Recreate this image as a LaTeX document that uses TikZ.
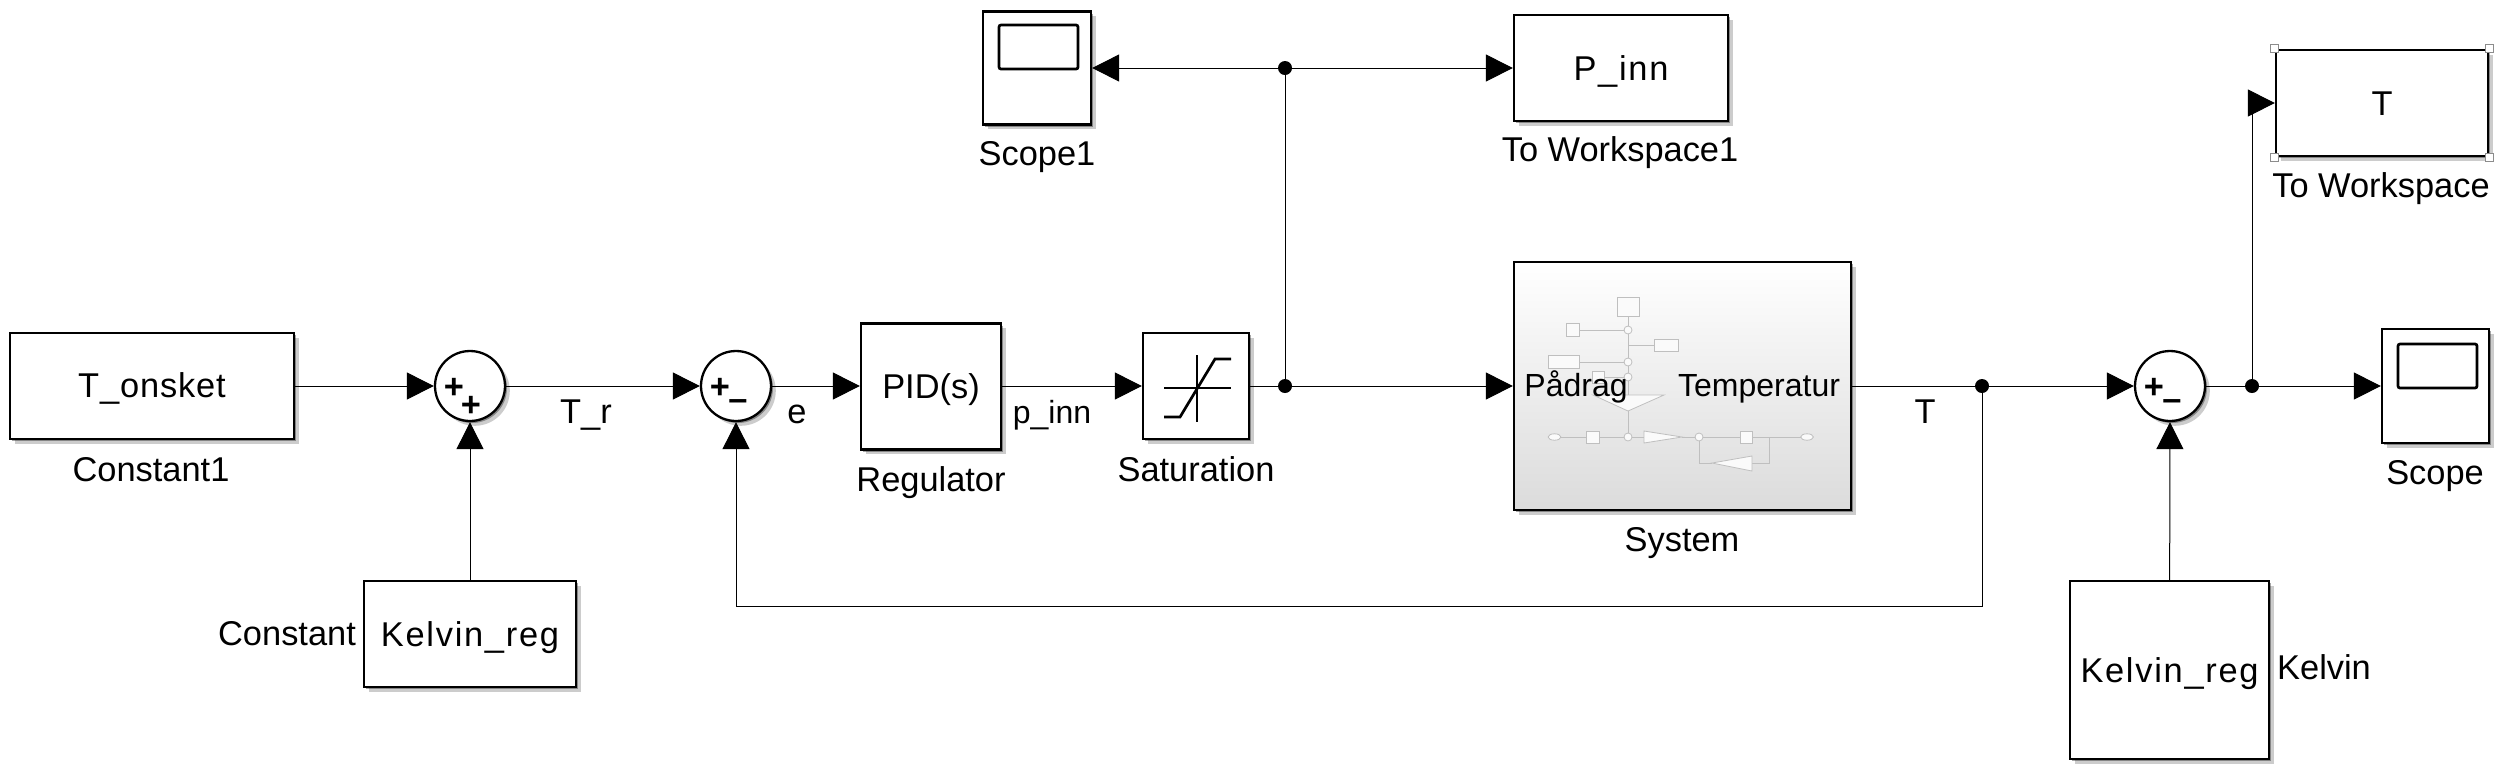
\documentclass[tikz,border=0pt]{standalone}
\usepackage{fontspec}
\setmainfont{Liberation Sans}
\usetikzlibrary{arrows.meta,shadows}

\begin{document}
\begin{tikzpicture}[x=0.5pt,y=-0.5pt,
    softshadow/.style={drop shadow={shadow xshift=1pt,shadow yshift=-1pt,fill=black,opacity=.35},
        drop shadow={shadow xshift=2.4pt,shadow yshift=-2.4pt,fill=black,opacity=.2}},
    blockbox/.style={softshadow,draw,line width=1.15pt,fill=white,inner sep=0pt,text height=12.3pt,text depth=0pt},
    sumbox/.style={blockbox,circle,minimum size=35pt},
    junction/.style={circle,fill=black,inner sep=0pt,minimum size=7pt},
    caption/.style={anchor=base,inner sep=0pt},
    portname/.style={caption,font=\fontsize{16}{20}\selectfont},
    wide/.style={font=\addfontfeature{LetterSpace=5}},
    sign/.style={inner sep=0pt,font=\bfseries},
    sig/.style={line width=0.5pt,-{Triangle[length=13.5pt,width=13.5pt]}},
    wire/.style={line width=0.5pt},
    icon/.style={line width=1.35pt},
    handle/.style={draw=black!45,fill=white,line width=0.6pt,inner sep=0pt,minimum size=4pt},
    thumb/.style={draw=black!25,line width=0.4pt},
    thumbbox/.style={draw=black!25,fill=black!2,line width=0.4pt}]
    \useasboundingbox (0,0) rectangle (2495,773);
    \fontsize{17.2}{20}\selectfont

    % Setpoint
    \node[blockbox,text height=11.3pt,minimum width=142pt,minimum height=53pt,font=\addfontfeature{LetterSpace=2.5}] (tonsket) at (152,386) {T\_onsket};
    \node[caption] (lconst1) at (151,481) {Constant1};
    \node[blockbox,wide,minimum width=106pt,minimum height=53pt] (kreg) at (470,634) {Kelvin\_reg};
    \node[caption] (lconst) at (287,645) {Constant};

    % Summing points
    \node[sumbox] (sum1) at (470,386) {};
    \node[sign] (s1a) at (454,388) {+};
    \node[sign] (s1b) at (471,406) {+};
    \node[sumbox] (sum2) at (736,386) {};
    \node[sign] (s2a) at (720,388) {+};
    \node[sign] (s2b) at (738,405) {--};
    \node[sumbox] (sum3) at (2170,386) {};
    \node[sign] (s3a) at (2154,388) {+};
    \node[sign] (s3b) at (2172,405) {--};

    % Regulator
    \node[blockbox,minimum width=70pt,minimum height=63pt] (pid) at (931,386.5) {PID(s)};
    \node[caption] (lreg) at (931,491) {Regulator};

    % Saturation
    \node[blockbox,minimum width=53pt,minimum height=53pt] (sat) at (1196,386) {};
    \draw[icon] (1197,355) -- (1197,422);
    \draw[icon] (1164,388) -- (1231,388);
    \draw[icon] (1164,417) -- (1180,417) -- (1215,359) -- (1231,359);
    \node[caption] (lsat) at (1196,481) {Saturation};

    % Scope1 and P_inn
    \node[blockbox,minimum width=54pt,minimum height=56.5pt] (scope1) at (1037,68) {};
    \draw[icon,rounded corners=1pt] (999,25) rectangle (1078,69);
    \node[caption] (lscope1) at (1037,165) {Scope1};
    \node[blockbox,wide,minimum width=107pt,minimum height=53pt] (pinn) at (1621,68) {P\_inn};
    \node[caption] (lwork1) at (1620,161) {To Workspace1};

    % System
    \node[blockbox,top color=white,middle color=black!6,bottom color=black!14,
        minimum width=168.5pt,minimum height=124pt] (sys) at (1682.5,386) {};
    \draw[thumb] (1628,316) -- (1628,437);
    \draw[thumb] (1579,330) -- (1628,330);
    \draw[thumb] (1628,345) -- (1654,345);
    \draw[thumb] (1579,362) -- (1628,362);
    \draw[thumb] (1604,377) -- (1628,377);
    \draw[thumb] (1561,437) -- (1644,437);
    \draw[thumb] (1682,437) -- (1801,437);
    \draw[thumb] (1699,437) -- (1699,463) -- (1712,463);
    \draw[thumb] (1752,463) -- (1769,463) -- (1769,437);
    \draw[thumbbox] (1617,297) rectangle (1639,316);
    \draw[thumbbox] (1566,323) rectangle (1579,336);
    \draw[thumbbox] (1654,339) rectangle (1678,351);
    \draw[thumbbox] (1548,355) rectangle (1579,368);
    \draw[thumbbox] (1592,371) rectangle (1604,383);
    \draw[thumbbox] (1586,431) rectangle (1599,443);
    \draw[thumbbox] (1740,431) rectangle (1752,443);
    \draw[thumbbox] (1593,395) -- (1664,395) -- (1628,411) -- cycle;
    \draw[thumbbox] (1644,431) -- (1682,437) -- (1644,443) -- cycle;
    \draw[thumbbox] (1712,463) -- (1752,456) -- (1752,471) -- cycle;
    \foreach \cx/\cy in {1628/330,1628/362,1628/377,1628/437,1699/437}
        \draw[thumbbox] (\cx,\cy) circle (2pt);
    \foreach \cx in {1554.5,1807}
        \draw[thumbbox] (\cx,437) ellipse (3.2pt and 1.6pt);
    \node[portname] (lin) at (1576,396) {Pådrag};
    \node[portname] (lout) at (1759,396) {Temperatur};
    \node[caption] (lsys) at (1682,551) {System};

    % Output side
    \node[blockbox,wide,minimum width=99.5pt,minimum height=89pt] (kreg2) at (2169.5,670) {Kelvin\_reg};
    \node[caption] (lkelvin) at (2324,679) {Kelvin};
    \node[blockbox,minimum width=106pt,minimum height=53pt] (wst) at (2382,103) {T};
    \foreach \c/\n in {north west/a,north east/b,south west/c,south east/d}
        \node[handle] (hnd\n) at (wst.\c) {};
    \node[caption] (lwork) at (2381,197) {To Workspace};
    \node[blockbox,minimum width=53.5pt,minimum height=57pt] (scope) at (2435.5,386) {};
    \draw[icon,rounded corners=1pt] (2398,344) rectangle (2477,388);
    \node[caption] (lscope) at (2435,484) {Scope};

    % Junctions
    \node[junction] (jsat) at (1285,386) {};
    \node[junction] (jtop) at (1285,68) {};
    \node[junction] (jt) at (1982,386) {};
    \node[junction] (jc) at (2252,386) {};
    \coordinate (fb) at (1982,606);

    % Signal labels
    \node[caption] (ltr) at (586,423) {T\_r};
    \node[caption] (le) at (797,423) {e};
    \node[portname] (lp) at (1052,423) {p\_inn};
    \node[caption] (lT) at (1925,423) {T};

    % Signals
    \draw[sig] (tonsket) -- (sum1);
    \draw[sig] (kreg) -- (sum1);
    \draw[sig] (sum1) -- (sum2);
    \draw[sig] (sum2) -- (pid.west |- sum2);
    \draw[sig] (pid.east |- sat) -- (sat);
    \draw[wire] (sat) -- (jsat);
    \draw[sig] (jsat) -- (sys);
    \draw[wire] (jsat) -- (jtop);
    \draw[sig] (jtop) -- (scope1);
    \draw[sig] (jtop) -- (pinn);
    \draw[wire] (sys) -- (jt);
    \draw[sig] (jt) -- (sum3);
    \draw[sig] (jt) -- (fb) -| (sum2);
    \draw[sig] (kreg2) -- (sum3);
    \draw[wire] (sum3) -- (jc);
    \draw[sig] (jc) -- (scope);
    \draw[sig] (jc) |- (wst);
\end{tikzpicture}
\end{document}
